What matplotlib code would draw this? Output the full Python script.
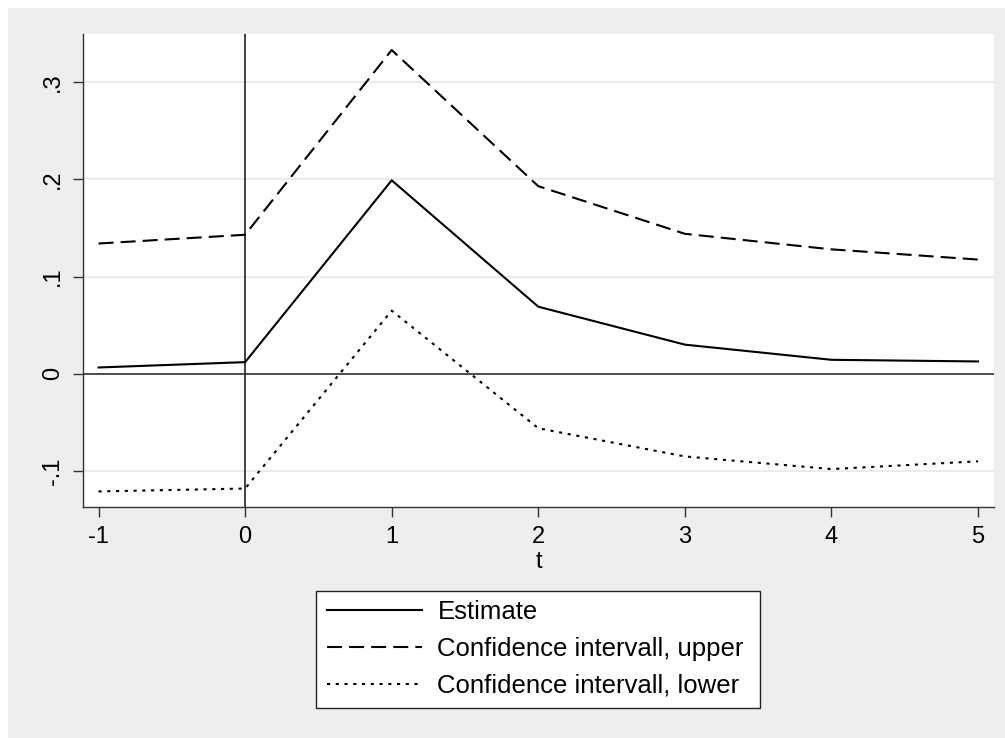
"""Event-study style estimate with confidence band (Stata look)."""

import matplotlib
matplotlib.use("Agg")
import matplotlib.pyplot as plt
from matplotlib.patches import Rectangle

t = [-1, 0, 1, 2, 3, 4, 5]
estimate = [0.0065, 0.0120, 0.199, 0.069, 0.030, 0.0144, 0.0127]
ci_upper = [0.134, 0.143, 0.333, 0.193, 0.144, 0.128, 0.1175]
ci_lower = [-0.121, -0.118, 0.065, -0.056, -0.085, -0.098, -0.090]

y_ticks = [-0.1, 0, 0.1, 0.2, 0.3]
y_tick_labels = ["-.1", "0", ".1", ".2", ".3"]
x_ticks = [-1, 0, 1, 2, 3, 4, 5]

labels = ["Estimate", "Confidence intervall, upper", "Confidence intervall, lower"]

W, H = 1005, 738
DARK = "#333333"
BG = "#EEEEEE"

plt.rcParams.update({
    "font.family": ["Liberation Sans", "DejaVu Sans"],
    "font.size": 17,
})

fig = plt.figure(figsize=(W / 100, H / 100), dpi=100, facecolor="white")
fig.patches.append(Rectangle((8 / W, 0), 1 - 8 / W, 1 - 8 / H,
                             transform=fig.transFigure, facecolor=BG,
                             edgecolor="none", zorder=-5))

ax = fig.add_axes([83 / W, 1 - 507 / H, (994 - 83) / W, (507 - 34) / H])
ax.set_facecolor("white")

for y in y_ticks:
    ax.axhline(y, color="#E6E6E6", lw=1.1, zorder=1)
ax.axhline(0, color=DARK, lw=1.2, zorder=2)
ax.axvline(0, color=DARK, lw=1.3, zorder=2)

l1, = ax.plot(t, estimate, color="black", lw=1.5, zorder=3)
l2, = ax.plot(t, ci_upper, color="black", lw=1.5, zorder=3)
l2.set_dashes((7.2, 3.4))
l3, = ax.plot(t, ci_lower, color="black", lw=1.5, zorder=3)
l3.set_dashes((1.5, 2.7))

ax.set_xlim(-1.106, 5.109)
ax.set_ylim(-0.137, 0.3495)

ax.set_xticks(x_ticks)
ax.set_xticklabels([str(v) for v in x_ticks])
ax.set_yticks(y_ticks)
ax.set_yticklabels(y_tick_labels, rotation=90, va="center")
ax.tick_params(axis="both", length=7.5, width=1.0, color=DARK, labelsize=17)
ax.tick_params(axis="x", pad=6)
ax.tick_params(axis="y", pad=6)
ax.set_xlabel("t", fontsize=17, labelpad=2)

for side in ("top", "right"):
    ax.spines[side].set_visible(False)
for side in ("left", "bottom"):
    ax.spines[side].set_color(DARK)
    ax.spines[side].set_linewidth(1.0)

# legend box drawn by hand so paddings match the original
fig.patches.append(Rectangle((316 / W, 1 - 708 / H), (760 - 316) / W, (708 - 591) / H,
                             transform=fig.transFigure, facecolor="white",
                             edgecolor="#222222", lw=1.0, zorder=1))
leg = fig.legend([l1, l2, l3], labels, loc="upper left",
                 bbox_to_anchor=(327 / W, 1 - 600 / H), frameon=False,
                 borderpad=0, borderaxespad=0, fontsize=18.5,
                 handlelength=3.7, handletextpad=0.6, labelspacing=0.5)

fig.savefig("out.png", dpi=100, facecolor=fig.get_facecolor())
